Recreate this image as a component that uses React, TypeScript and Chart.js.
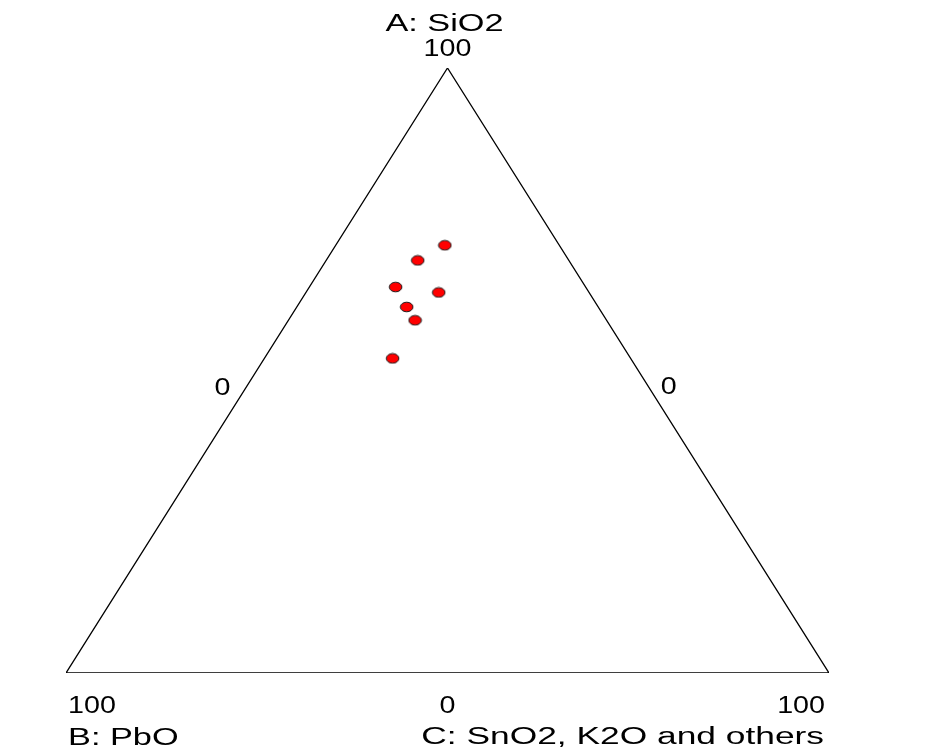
import React, { useEffect, useRef } from "react";
import { Chart, registerables } from "chart.js";

Chart.register(...registerables);

// Ternary compositions (%)
const sio2 = [70.7, 68.2, 63.8, 62.9, 60.5, 58.3, 52.0]; // A
const pbo = [15.0, 19.8, 24.9, 19.7, 25.1, 25.1, 31.2]; // B
const others = [14.3, 12.0, 11.3, 17.4, 14.4, 16.6, 16.8]; // C

const axisNames = ["A: SiO2", "B: PbO", "C: SnO2, K2O and others"];
const tickTop = "100";
const tickSideLeft = "0";
const tickSideRight = "0";
const tickBottom = ["100", "0", "100"];

function toXY(a: number, b: number, c: number) {
  const s = a + b + c;
  return { x: (c + a / 2) / s, y: a / s };
}

function makeMarker(): HTMLCanvasElement {
  const cv = document.createElement("canvas");
  cv.width = 15;
  cv.height = 12;
  const ctx = cv.getContext("2d")!;
  ctx.beginPath();
  ctx.ellipse(7.5, 6, 6.3, 4.8, 0, 0, Math.PI * 2);
  ctx.fillStyle = "#ff0000";
  ctx.fill();
  ctx.lineWidth = 1;
  ctx.strokeStyle = "#1a1a1a";
  ctx.stroke();
  return cv;
}

const labelPlugin = {
  id: "ternaryLabels",
  afterDraw(chart: any) {
    const ctx = chart.ctx as CanvasRenderingContext2D;
    const xs = chart.scales.x;
    const ys = chart.scales.y;
    const px = (v: number) => xs.getPixelForValue(v);
    const py = (v: number) => ys.getPixelForValue(v);
    const apexX = px(0.5), apexY = py(1);
    const leftX = px(0), rightX = px(1), baseY = py(0);
    const midY = py(0.5);

    const draw = (
      text: string,
      x: number,
      y: number,
      align: "left" | "center" | "right",
      sx: number
    ) => {
      ctx.save();
      ctx.font = "23.5px 'Liberation Sans', Arial, sans-serif";
      ctx.fillStyle = "#000000";
      ctx.textBaseline = "alphabetic";
      const w = ctx.measureText(text).width * sx;
      let left = x;
      if (align === "center") left = x - w / 2;
      else if (align === "right") left = x - w;
      ctx.translate(left, y);
      ctx.scale(sx, 1);
      ctx.textAlign = "left";
      ctx.fillText(text, 0, 0);
      ctx.restore();
    };

    const nameScale = 1.46;
    const numScale = 1.22;
    draw(axisNames[0], apexX - 3, apexY - 37, "center", nameScale);
    draw(tickTop, apexX, apexY - 12, "center", numScale);
    draw(tickSideLeft, px(0.205), midY + 24, "center", numScale);
    draw(tickSideRight, px(0.79), midY + 23, "center", numScale);
    draw(tickBottom[0], leftX + 2, baseY + 40, "left", numScale);
    draw(tickBottom[1], px(0.5), baseY + 40, "center", numScale);
    draw(tickBottom[2], rightX - 4, baseY + 40, "right", numScale);
    draw(axisNames[1], leftX + 2, baseY + 72, "left", nameScale);
    draw(axisNames[2], rightX - 5, baseY + 71, "right", nameScale * 1.03);
  },
};

export default function App() {
  const ref = useRef<HTMLCanvasElement | null>(null);
  useEffect(() => {
    if (!ref.current) return;
    const pts = sio2.map((a, i) => toXY(a, pbo[i], others[i]));
    const tri = [toXY(0, 100, 0), toXY(0, 0, 100), toXY(100, 0, 0), toXY(0, 100, 0)];
    const marker = makeMarker();
    const chart = new Chart(ref.current, {
      type: "scatter",
      data: {
        datasets: [
          {
            data: tri,
            showLine: true,
            borderColor: "#000000",
            borderWidth: 1.3,
            pointRadius: 0,
            fill: false,
            tension: 0,
          },
          {
            data: pts,
            pointStyle: marker as any,
            pointRadius: 6,
            backgroundColor: "#ff0000",
            borderColor: "#000000",
          },
        ],
      },
      options: {
        animation: false,
        responsive: false,
        layout: { padding: { left: 66, right: 96, top: 68, bottom: 80 } },
        scales: {
          x: { type: "linear", min: 0, max: 1, display: false },
          y: { type: "linear", min: 0, max: 1, display: false },
        },
        plugins: {
          legend: { display: false },
          tooltip: { enabled: false },
        },
      },
      plugins: [labelPlugin],
    });
    return () => chart.destroy();
  }, []);
  return (
    <div style={{ position: "fixed", left: 0, top: 0, width: 925, height: 753, background: "#fff" }}>
      <canvas ref={ref} width={925} height={753} style={{ display: "block" }} />
    </div>
  );
}
